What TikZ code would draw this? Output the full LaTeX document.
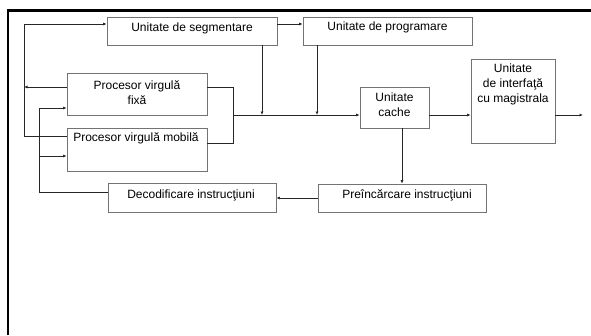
\documentclass[tikz,border=0pt]{standalone}
\usepackage{fontspec}
\setmainfont{Liberation Sans}
\usetikzlibrary{arrows.meta}
\begin{document}
\begin{tikzpicture}[x=1pt,y=-1pt,
  unit/.style={draw=black!55,line width=0.7pt,rectangle,inner sep=0pt},
  caption/.style={anchor=north,align=center,inner sep=0pt,
    font=\fontsize{12}{15}\selectfont},
  wire/.style={draw=black!85,line width=0.7pt},
  arr/.style={wire,-{Latex[length=3.5pt,width=3pt]}}]
\useasboundingbox (0,0) rectangle (591,335);
% frame
\draw[line width=2.5pt] (8,335) -- (8,10.5) -- (591,10.5);

% units
\node[unit,minimum width=170,minimum height=28] (seg) at (192,31) {};
\node[unit,minimum width=169,minimum height=28] (prog) at (387.5,31) {};
\node[unit,minimum width=140,minimum height=42] (fixa) at (137,94) {};
\node[unit,minimum width=140,minimum height=43] (mob) at (137,149.5) {};
\node[unit,minimum width=168,minimum height=29] (dec) at (192,197.5) {};
\node[unit,minimum width=168,minimum height=28] (pre) at (402,198) {};
\node[unit,minimum width=69,minimum height=41] (cache) at (394.5,107.5) {};
\node[unit,minimum width=84,minimum height=84] (intf) at (513,101) {};

% captions
\node[caption] (segt) at (192,22.5) {Unitate de segmentare};
\node[caption] (progt) at (387.5,22) {Unitate de programare};
\node[caption] (fixat) at (137,80) {Procesor virgulă\\fixă};
\node[caption] (mobt) at (136,132) {Procesor virgulă mobilă};
\node[caption] (dect) at (191,189.5) {Decodificare instrucţiuni};
\node[caption] (pret) at (407,189) {Preîncărcare instrucţiuni};
\node[caption] (cachet) at (394.5,93) {Unitate\\cache};
\node[caption] (intft) at (513,63.5) {Unitate\\de interfaţă\\cu magistrala};

% junction points
\coordinate (ytop) at (24,24);
\coordinate (bus) at (233,115);
\coordinate (jseg) at (262,115);
\coordinate (jprog) at (317,115);
\coordinate (out) at (583,115);

% left feedback loops
\draw[arr] (mob.west |- 0,136) -- (24,136) -- (ytop) -- (seg.west |- ytop);
\draw[arr] (fixa.west |- 0,87) -- (24,87);
\draw[arr] (dec.west |- 0,192) -- (39,192) -- (39,108) -- (fixa.west |- 0,108);
\draw[arr] (39,156) -- (mob.west |- 0,156);

% top row
\draw[arr] (seg.east |- ytop) -- (prog.west |- ytop);
\draw[arr] (seg.south -| jseg) -- (jseg);
\draw[arr] (prog.south -| jprog) -- (jprog);

% processor outputs onto the bus
\draw[wire] (fixa.east |- 0,87) -- (233,87) -- (233,143) -- (mob.east |- 0,143);
\draw[arr] (bus) -- (cache.west |- bus);
\draw[arr] (cache.east |- bus) -- (intf.west |- bus);
\draw[arr] (intf.east |- bus) -- (out);

% instruction path
\draw[arr] (cache.south -| pre.north) -- (pre.north);
\draw[arr] (pre.west) -- (dec.east |- pre.west);
\end{tikzpicture}
\end{document}
